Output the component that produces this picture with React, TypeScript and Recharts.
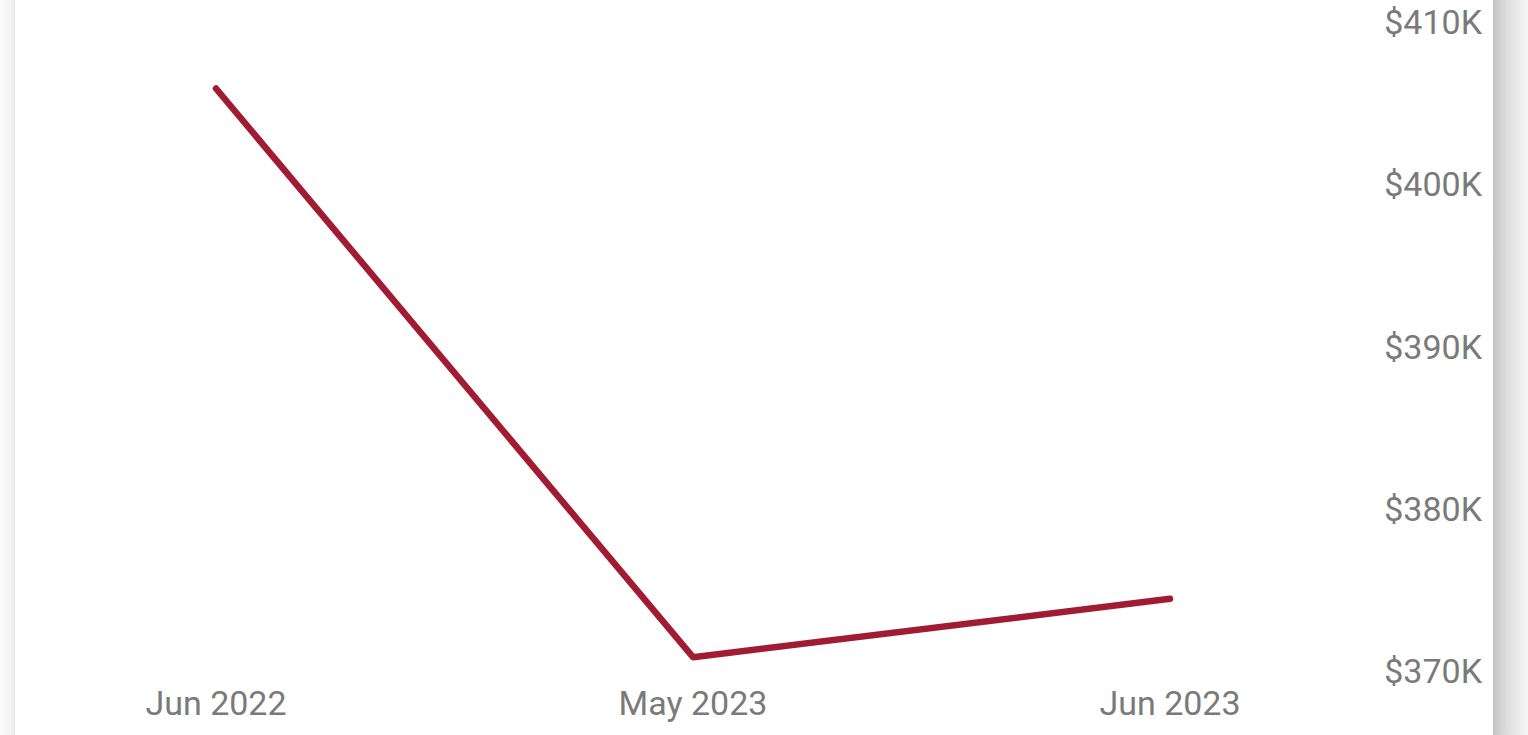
import React from 'react';
import { LineChart, Line, XAxis, YAxis } from 'recharts';

const months = ['Jun 2022', 'May 2023', 'Jun 2023'];
const values = [405900, 370850, 374450];
const yTicks = [370000, 380000, 390000, 400000, 410000];

const data = months.map((m, i) => ({ month: m, value: values[i] }));

const FONT = 'Roboto, "DejaVu Sans", sans-serif';
const GRAY = '#7a7a7a';

const YTick = (props: any) => {
  const { x, y, payload } = props;
  return (
    <text
      x={x + 96}
      y={y}
      dy="0.355em"
      textAnchor="end"
      fill={GRAY}
      fontSize={34}
      fontFamily={FONT}
    >
      {`$${Math.round(payload.value / 1000)}K`}
    </text>
  );
};

export default function App() {
  return (
    <div
      style={{
        position: 'absolute',
        left: 0,
        top: 0,
        width: 1528,
        height: 735,
        overflow: 'hidden',
        background: '#ffffff',
      }}
    >
      <div
        style={{
          position: 'absolute',
          left: 0,
          top: 0,
          width: 15,
          height: 735,
          background: 'linear-gradient(to right, #fcfcfc, #f3f3f3 70%, #e8e8e8)',
        }}
      />
      <div
        style={{
          position: 'absolute',
          left: 1493,
          top: 0,
          width: 35,
          height: 735,
          background: 'linear-gradient(to right, #c4c4c4, #dedede 40%, #f6f6f6)',
        }}
      />
      <div style={{ position: 'absolute', left: 0, top: 0 }}>
        <LineChart
          width={1493}
          height={735}
          data={data}
          margin={{ top: 22, right: 0, bottom: 0, left: 15 }}
        >
          <XAxis
            dataKey="month"
            axisLine={false}
            tickLine={false}
            height={64}
            tickMargin={14}
            padding={{ left: 201, right: 208 }}
            tick={{ fontSize: 34, fill: GRAY, fontFamily: FONT }}
            interval={0}
          />
          <YAxis
            orientation="right"
            width={115}
            domain={[370000, 410000]}
            ticks={yTicks}
            axisLine={false}
            tickLine={false}
            tick={<YTick />}
            interval={0}
          />
          <Line
            type="linear"
            dataKey="value"
            stroke="#A11B33"
            strokeWidth={6.5}
            strokeLinecap="round"
            strokeLinejoin="round"
            dot={false}
            activeDot={false}
            isAnimationActive={false}
          />
        </LineChart>
      </div>
    </div>
  );
}
